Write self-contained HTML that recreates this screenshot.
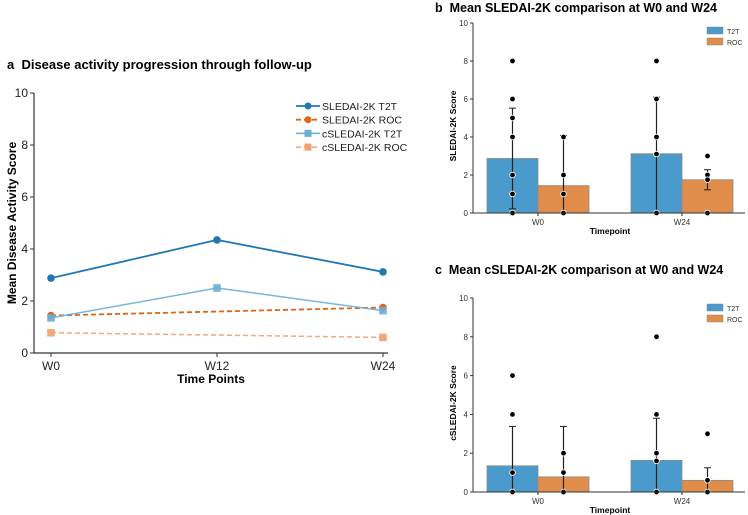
<!DOCTYPE html>
<html><head><meta charset="utf-8"><style>
body{margin:0;background:#fff;}
svg{display:block;font-family:"Liberation Sans","DejaVu Sans",sans-serif;}
text{white-space:pre;}
</style></head><body>
<svg id="fig" width="748" height="515" viewBox="0 0 748 515"></svg>
<script>
// Panel a data
const aCategories = ["W0","W12","W24"];
const aSledaiT2T = [2.88, 4.35, 3.12];
const aSledaiROC = [1.44, null, 1.75];
const aCSledaiT2T = [1.35, 2.5, 1.63];
const aCSledaiROC = [0.78, null, 0.6];
const aYTicks = [0,2,4,6,8,10];
// Panel b data
const bCategories = ["W0","W24"];
const bT2T = [2.87, 3.12];
const bROC = [1.44, 1.75];
const bT2TErrLo = [0.22, 0]; const bT2THi = [5.52, 6.1];
const bROCErrLo = [0, 1.22]; const bROCHi = [4.08, 2.28];
const bT2TPts = [[8,6,5,4,2,1,0],[8,6,4,3.1,0]];
const bROCPts = [[4,2,1,0],[3,2,1.75,0]];
// Panel c data
const cT2T = [1.35, 1.63];
const cROC = [0.78, 0.6];
const cT2TErrLo = [0, 0]; const cT2THi = [3.38, 3.8];
const cROCErrLo = [0, 0]; const cROCHi = [3.38, 1.25];
const cT2TPts = [[6,4,1,0],[8,4,2,1.6,0]];
const cROCPts = [[2,1,0],[3,0.6,0]];
const barTicks = [0,2,4,6,8,10];

const svg = document.getElementById('fig');
const NS = 'http://www.w3.org/2000/svg';
function mk(tag, attrs, parent, name, text){
  const e = document.createElementNS(NS, tag);
  for (const k in attrs) e.setAttribute(k, attrs[k]);
  
  
  if (text !== undefined) e.textContent = text;
  (parent||svg).appendChild(e);
  return e;
}

// ---------- Panel a ----------
const ax0=34, ax1=388, ay0=353, ay1=93;
const axX = i => 51 + i*166;
const axY = v => ay0 - (v/10)*(ay0-ay1);
const ga = mk('g',{},svg,'panel-a');
mk('text',{x:7,y:69,'font-size':13,'font-weight':'bold',fill:'#000'},ga,'panel-a-title','a  Disease activity progression through follow-up');
mk('line',{x1:ax0,y1:ay1,x2:ax0,y2:ay0,stroke:'#333','stroke-width':1.2},ga,'y-axis');
mk('line',{x1:ax0,y1:ay0,x2:ax1,y2:ay0,stroke:'#333','stroke-width':1.2},ga,'x-axis');
aYTicks.forEach(t=>{
  mk('line',{x1:ax0-4,y1:axY(t),x2:ax0,y2:axY(t),stroke:'#333'},ga,'y-tick');
  mk('text',{x:ax0-6,y:axY(t)+4,'font-size':12,'text-anchor':'end',fill:'#222'},ga,'y-tick-label',String(t));
});
aCategories.forEach((c,i)=>{
  mk('line',{x1:axX(i),y1:ay0,x2:axX(i),y2:ay0+4,stroke:'#333'},ga,'x-tick');
  mk('text',{x:axX(i),y:ay0+17,'font-size':12,'text-anchor':'middle',fill:'#222'},ga,'x-tick-label',c);
});
mk('text',{x:211,y:383,'font-size':12,'font-weight':'bold','text-anchor':'middle'},ga,'x-axis-title','Time Points');
mk('text',{x:0,y:0,'font-size':12,'font-weight':'bold','text-anchor':'middle',transform:'translate(16,223) rotate(-90)'},ga,'y-axis-title','Mean Disease Activity Score');

const series = [
  {d:aSledaiT2T,col:'#1f77b4',dash:'',mark:'circle',op:1,w:1.8,name:'SLEDAI-2K T2T'},
  {d:aSledaiROC,col:'#e06414',dash:'5,3',mark:'circle',op:1,w:1.8,name:'SLEDAI-2K ROC'},
  {d:aCSledaiT2T,col:'#6aaed6',dash:'',mark:'square',op:0.9,w:1.5,name:'cSLEDAI-2K T2T'},
  {d:aCSledaiROC,col:'#f0a070',dash:'5,3',mark:'square',op:0.9,w:1.5,name:'cSLEDAI-2K ROC'}
];
series.forEach((s,si)=>{
  const pts = s.d.map((v,i)=>v===null?null:[axX(i),axY(v)]).filter(p=>p);
  mk('polyline',{points:pts.map(p=>p.join(',')).join(' '),fill:'none',stroke:s.col,'stroke-width':s.w,'stroke-dasharray':s.dash,opacity:s.op},ga,'line-series');
  pts.forEach(p=>{
    if(s.mark==='circle') mk('circle',{cx:p[0],cy:p[1],r:3.8,fill:s.col},ga,'data-point');
    else mk('rect',{x:p[0]-3.8,y:p[1]-3.8,width:7.6,height:7.6,fill:s.col,opacity:s.op},ga,'data-point');
  });
  const ly = 106 + si*13.7;
  const lg = mk('g',{},ga,'legend-entry');
  mk('line',{x1:296,y1:ly,x2:320,y2:ly,stroke:s.col,'stroke-width':s.w,'stroke-dasharray':s.dash},lg,'legend-line');
  if(s.mark==='circle') mk('circle',{cx:308,cy:ly,r:3.5,fill:s.col},lg,'legend-marker');
  else mk('rect',{x:304.5,y:ly-3.5,width:7,height:7,fill:s.col},lg,'legend-marker');
  mk('text',{x:322,y:ly+4,'font-size':10.5,fill:'#222'},lg,'legend-label',s.name);
});

// ---------- Bar panels ----------
function barPanel(opt){
  const g = mk('g',{},svg,opt.name);
  const x0=473, x1=745, y0=opt.y0, y1=opt.y1;
  const Y = v => y0 - (v/10)*(y0-y1);
  const X = i => 538 + i*144;
  const bw = 51;
  mk('text',{x:opt.tx,y:opt.ty,'font-size':12.5,'font-weight':'bold'},g,'panel-title',opt.title);
  bCategories.forEach((c,i)=>{
    mk('rect',{x:X(i)-bw,y:Y(opt.t2t[i]),width:bw,height:y0-Y(opt.t2t[i]),fill:'#4a9bcc',stroke:'#8a8a8a','stroke-width':0.8},g,'bar-t2t-'+c);
    mk('rect',{x:X(i),y:Y(opt.roc[i]),width:bw,height:y0-Y(opt.roc[i]),fill:'#e08c4a',stroke:'#8a8a8a','stroke-width':0.8},g,'bar-roc-'+c);
    [[X(i)-bw/2,opt.t2tLo[i],opt.t2tHi[i],opt.t2tPts[i]],[X(i)+bw/2,opt.rocLo[i],opt.rocHi[i],opt.rocPts[i]]].forEach(([cx,lo,hi,pts])=>{
      mk('line',{x1:cx,y1:Y(lo),x2:cx,y2:Y(hi),stroke:'#222','stroke-width':1.2},g,'error-bar');
      mk('line',{x1:cx-3.5,y1:Y(hi),x2:cx+3.5,y2:Y(hi),stroke:'#222','stroke-width':1},g,'error-cap');
      if(lo>0) mk('line',{x1:cx-3.5,y1:Y(lo),x2:cx+3.5,y2:Y(lo),stroke:'#222','stroke-width':1},g,'error-cap');
      pts.forEach(v=>mk('circle',{cx:cx,cy:Y(v),r:2.8,fill:'#000',stroke:'#fff','stroke-width':0.8},g,'individual-point'));
    });
    mk('line',{x1:X(i),y1:y0,x2:X(i),y2:y0+3,stroke:'#333'},g,'x-tick');
    mk('text',{x:X(i),y:y0+12,'font-size':8,'text-anchor':'middle',fill:'#333'},g,'x-tick-label',c);
  });
  mk('line',{x1:x0,y1:y1,x2:x0,y2:y0,stroke:'#333','stroke-width':1},g,'y-axis');
  mk('line',{x1:x0,y1:y0,x2:x1,y2:y0,stroke:'#333','stroke-width':1},g,'x-axis');
  barTicks.forEach(t=>{
    mk('line',{x1:x0-3,y1:Y(t),x2:x0,y2:Y(t),stroke:'#333'},g,'y-tick');
    mk('text',{x:x0-5,y:Y(t)+3,'font-size':8,'text-anchor':'end',fill:'#333'},g,'y-tick-label',String(t));
  });
  mk('text',{x:610,y:y0+21,'font-size':8.5,'font-weight':'bold','text-anchor':'middle'},g,'x-axis-title','Timepoint');
  mk('text',{x:0,y:0,'font-size':8.5,'font-weight':'bold','text-anchor':'middle',transform:`translate(456,${(y0+y1)/2+8}) rotate(-90)`},g,'y-axis-title',opt.ylab);
  const l1 = mk('g',{},g,'legend-entry');
  mk('rect',{x:707,y:opt.ly-4,width:16,height:7,fill:'#4a9bcc',stroke:'#8a8a8a','stroke-width':0.5},l1,'legend-swatch');
  mk('text',{x:727,y:opt.ly+3,'font-size':7,fill:'#333'},l1,'legend-label','T2T');
  const l2 = mk('g',{},g,'legend-entry');
  mk('rect',{x:707,y:opt.ly+7,width:16,height:7,fill:'#e08c4a',stroke:'#8a8a8a','stroke-width':0.5},l2,'legend-swatch');
  mk('text',{x:727,y:opt.ly+14,'font-size':7,fill:'#333'},l2,'legend-label','ROC');
}
barPanel({name:'panel-b',y0:213,y1:23,tx:435,ty:12,title:'b  Mean SLEDAI-2K comparison at W0 and W24',ylab:'SLEDAI-2K Score',
  t2t:bT2T,roc:bROC,t2tLo:bT2TErrLo,t2tHi:bT2THi,rocLo:bROCErrLo,rocHi:bROCHi,t2tPts:bT2TPts,rocPts:bROCPts,ly:31});
barPanel({name:'panel-c',y0:492,y1:298,tx:435,ty:274,title:'c  Mean cSLEDAI-2K comparison at W0 and W24',ylab:'cSLEDAI-2K Score',
  t2t:cT2T,roc:cROC,t2tLo:cT2TErrLo,t2tHi:cT2THi,rocLo:cROCErrLo,rocHi:cROCHi,t2tPts:cT2TPts,rocPts:cROCPts,ly:308});
</script>
</body></html>
